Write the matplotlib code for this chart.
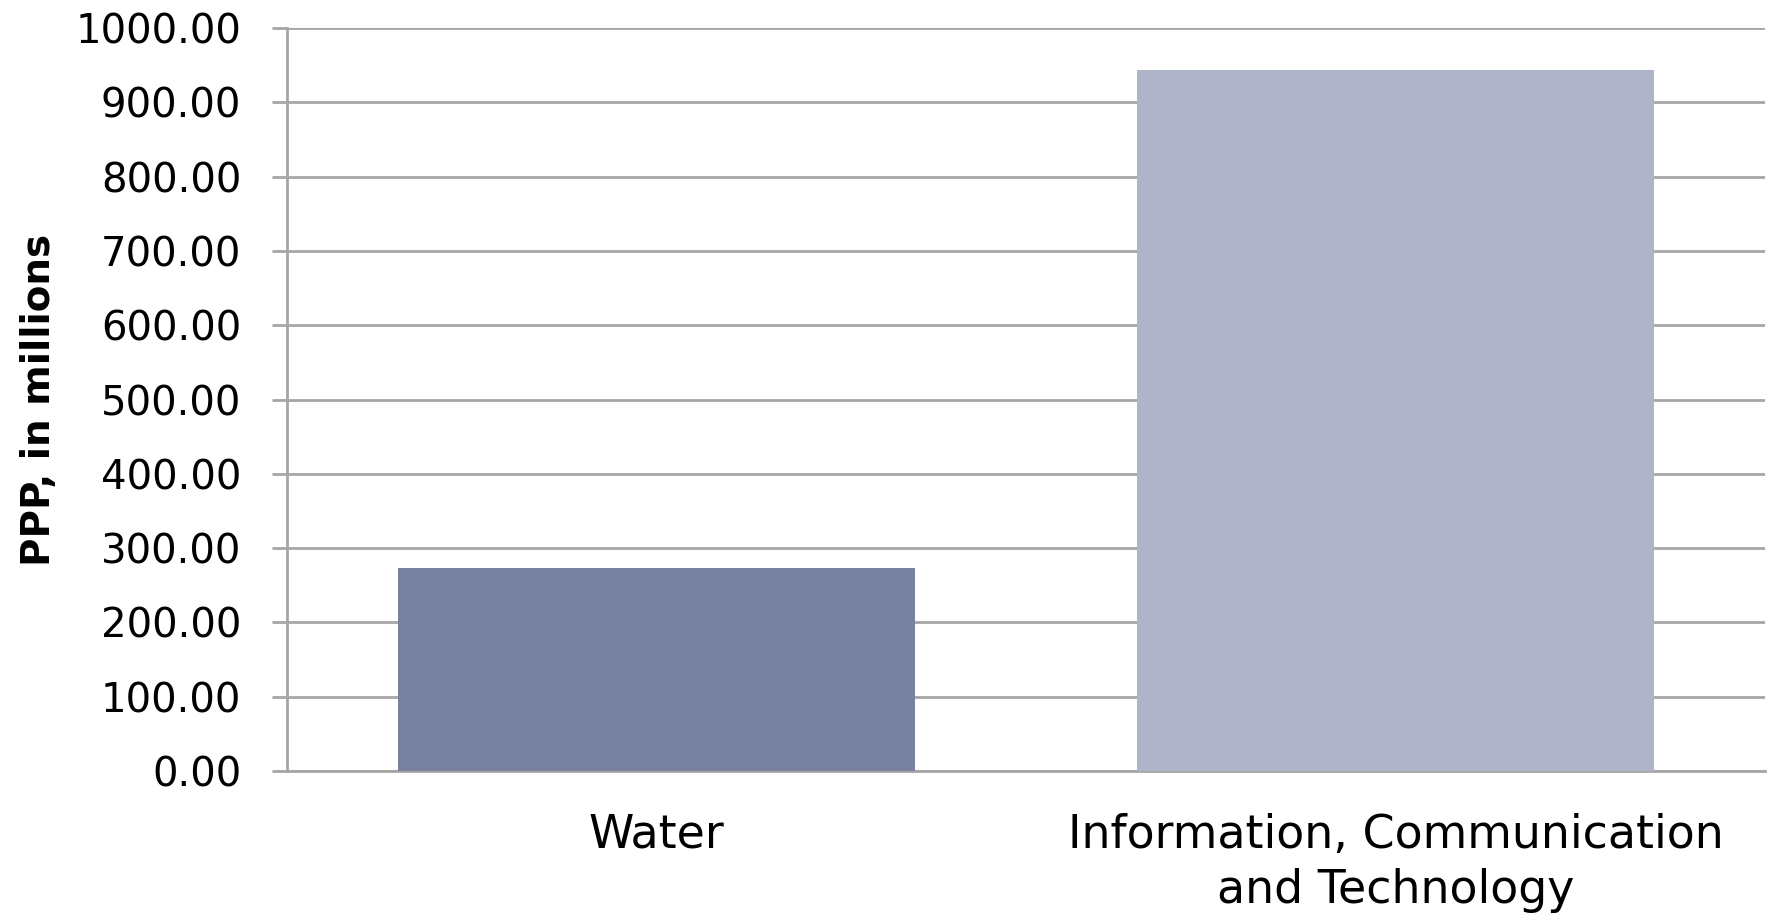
import matplotlib
matplotlib.use("Agg")
import matplotlib.pyplot as plt
import numpy as np

categories = ['Water', 'Information, Communication\nand Technology']
values = [273.0, 943.5]
colors = ['#7882A0', '#AFB4C8']
yticks = [0, 100, 200, 300, 400, 500, 600, 700, 800, 900, 1000]

plt.rcParams['font.family'] = 'DejaVu Sans'

fig = plt.figure(figsize=(17.72, 9.16), dpi=100)
ax = fig.add_axes([0.162, 0.1583, 0.834, 0.8111])

x = np.arange(len(categories))
ax.bar(x, values, width=0.70, color=colors, zorder=3)

ax.set_xlim(-0.5, 1.5)
ax.set_ylim(0, 1000)
ax.set_yticks(yticks)
ax.set_yticklabels(['%.2f' % v for v in yticks], fontsize=29)
ax.set_xticks(x)
ax.set_xticklabels(categories, fontsize=33, linespacing=1.3)

grid_col = '#A6A6A6'
ax.grid(axis='y', color=grid_col, linewidth=2, zorder=0)
for s in ['top', 'right']:
    ax.spines[s].set_visible(False)
ax.spines['left'].set_color(grid_col)
ax.spines['left'].set_linewidth(2)
ax.spines['bottom'].set_color(grid_col)
ax.spines['bottom'].set_linewidth(2)
ax.tick_params(axis='y', direction='out', length=11, width=2, color=grid_col, pad=22)
ax.tick_params(axis='x', length=0, pad=30)

ax.set_ylabel('PPP, in millions', fontsize=28, fontweight='bold')
ax.yaxis.set_label_coords(-0.155, 0.5)

fig.savefig('out.png', dpi=100)
